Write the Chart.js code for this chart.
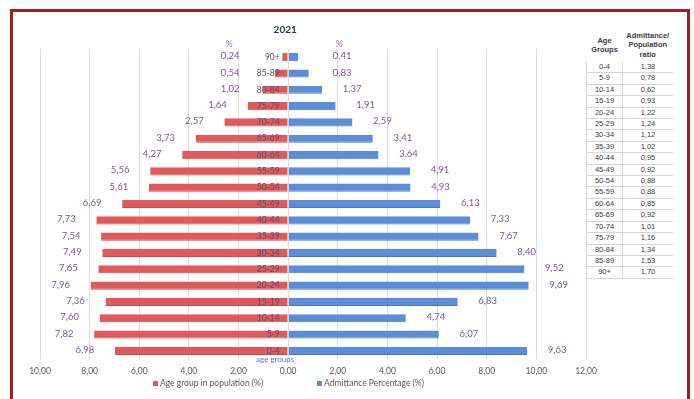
<!DOCTYPE html>
<html>
<head>
<meta charset="utf-8">
<title>2021 age pyramid</title>
<script src="https://cdn.jsdelivr.net/npm/chart.js@4.4.1/dist/chart.umd.min.js"></script>
<style>
  html, body { margin: 0; padding: 0; background: #fff; }
  #wrap { position: relative; width: 694px; height: 399px; overflow: hidden; background: #fff; }
  #chart { position: absolute; left: 0; top: 0; }
  #frame { position: absolute; left: 10px; top: 9px; width: 674px; height: 420px;
           border: 3px solid #a11d21; pointer-events: none; }
  #ratio { position: absolute; left: 586px; top: 28px; border-collapse: collapse; background: #fff;
           font-family: "Liberation Sans", Arial, sans-serif; font-size: 7.5px; color: #3c3c3c; }
  #ratio th { font-weight: bold; line-height: 9.5px; padding: 0; vertical-align: middle; height: 34px; }
  #ratio td { padding: 0; height: 10.4px; line-height: 10.4px; text-align: center;
              border-bottom: 1px solid #d6d6d6; }
  #ratio td.g { width: 35px; border-left: 1px solid #d6d6d6; border-right: 1px solid #d6d6d6; }
  #ratio td.r { width: 50px; }
  #ratio th.g { width: 35px; }
  #ratio th.r { width: 50px; }
</style>
</head>
<body>
<div id="wrap">
  <canvas id="chart" width="694" height="399"></canvas>
  <table id="ratio"><thead></thead><tbody></tbody></table>
  <div id="frame"></div>
</div>
<script>
// Age groups, youngest first
const ageGroups = ['0-4','5-9','10-14','15-19','20-24','25-29','30-34','35-39','40-44','45-49',
                   '50-54','55-59','60-64','65-69','70-74','75-79','80-84','85-89','90+'];
// Share of each age group in the population (%)
const populationPct = [6.98, 7.82, 7.60, 7.36, 7.96, 7.65, 7.49, 7.54, 7.73, 6.69,
                       5.61, 5.56, 4.27, 3.73, 2.57, 1.64, 1.02, 0.54, 0.24];
// Share of each age group among admissions (%)
const admittancePct = [9.63, 6.07, 4.74, 6.83, 9.69, 9.52, 8.40, 7.67, 7.33, 6.13,
                       4.93, 4.91, 3.64, 3.41, 2.59, 1.91, 1.37, 0.83, 0.41];
// Admittance / population ratio per age group
const ratioValues = ['1,38','0,78','0,62','0,93','1,22','1,24','1,12','1,02','0,95','0,92',
                     '0,88','0,88','0,85','0,92','1,01','1,16','1,34','1,53','1,70'];
const xTicks = { min: -10, max: 12, step: 2 };

const fmt = v => Math.abs(v).toFixed(2).replace('.', ',');

// Ratio table
(function buildTable() {
  const thead = document.querySelector('#ratio thead');
  thead.innerHTML = '<tr><th class="g">Age<br>Groups</th><th class="r">Admittance/<br>Population<br>ratio</th></tr>';
  const tbody = document.querySelector('#ratio tbody');
  ageGroups.forEach((g, i) => {
    const tr = document.createElement('tr');
    tr.innerHTML = '<td class="g">' + g + '</td><td class="r">' + ratioValues[i] + '</td>';
    tbody.appendChild(tr);
  });
})();

// top row = oldest group
const rows = ageGroups.slice().reverse();
const popRows = populationPct.slice().reverse();
const admRows = admittancePct.slice().reverse();

const FONT = 'Lato, "Open Sans", sans-serif';

const annotations = {
  id: 'annotations',
  afterDatasetsDraw(chart) {
    const ctx = chart.ctx;
    const x = chart.scales.x;
    const zero = x.getPixelForValue(0);
    ctx.save();
    ctx.font = '9.5px ' + FONT;
    ctx.fillStyle = '#7a5890';
    ctx.textAlign = 'center';
    ctx.textBaseline = 'middle';
    chart.getDatasetMeta(0).data.forEach((bar, i) => {
      const lx = Math.min(bar.x - 30, zero - 58);
      ctx.fillText(fmt(popRows[i]), lx, bar.y - 1);
    });
    chart.getDatasetMeta(1).data.forEach((bar, i) => {
      const lx = Math.max(bar.x + 30, zero + 54);
      ctx.fillText(fmt(admRows[i]), lx, bar.y - 1);
    });
    // percent markers above the label columns
    ctx.fillStyle = '#a77ac0';
    ctx.font = '9px ' + FONT;
    ctx.fillText('%', zero - 59, 44);
    ctx.fillText('%', zero + 51, 44);
    // title
    ctx.fillStyle = '#243a55';
    ctx.font = 'bold 10px ' + FONT;
    ctx.fillText('2021', zero - 3, 30);
    // category axis caption
    ctx.fillStyle = '#5a78cc';
    ctx.font = '8px ' + FONT;
    ctx.fillText('age groups', zero - 13, 359);
    // legend
    const items = [
      { text: 'Age group in population (%)', color: '#e05a5c', x: 153 },
      { text: 'Admittance Percentage (%)', color: '#5b8dd8', x: 317 }
    ];
    ctx.textAlign = 'left';
    ctx.font = '8.5px ' + FONT;
    items.forEach(it => {
      ctx.fillStyle = it.color;
      ctx.fillRect(it.x, 381, 5, 5);
      ctx.fillStyle = '#595959';
      ctx.fillText(it.text, it.x + 7, 383.5);
    });
    ctx.restore();
  }
};

new Chart(document.getElementById('chart'), {
  type: 'bar',
  data: {
    labels: rows,
    datasets: [
      {
        label: 'Age group in population (%)',
        data: popRows.map(v => -v),
        backgroundColor: '#e05a5c',
        borderColor: '#c94a4c',
        borderWidth: { top: 0, bottom: 1, left: 0, right: 0 },
        borderSkipped: false,
        barPercentage: 0.5,
        categoryPercentage: 1
      },
      {
        label: 'Admittance Percentage (%)',
        data: admRows,
        backgroundColor: '#5b8dd8',
        borderColor: '#4a78c0',
        borderWidth: { top: 0, bottom: 1, left: 0, right: 0 },
        borderSkipped: false,
        barPercentage: 0.5,
        categoryPercentage: 1
      }
    ]
  },
  options: {
    indexAxis: 'y',
    responsive: false,
    animation: false,
    devicePixelRatio: 1,
    layout: { padding: { left: 40, right: 108, top: 49, bottom: 20 } },
    plugins: { legend: { display: false }, title: { display: false }, tooltip: { enabled: false } },
    scales: {
      x: {
        stacked: true,
        min: xTicks.min,
        max: xTicks.max,
        afterFit: s => { s.height = 20; },
        grid: { color: '#dcdcdc', lineWidth: 1, drawTicks: false },
        border: { display: false },
        ticks: {
          stepSize: xTicks.step,
          padding: 7,
          color: '#595959',
          font: { family: FONT, size: 8.5 },
          callback: v => fmt(v)
        }
      },
      y: {
        stacked: true,
        position: { x: 0 },
        grid: { display: false, drawTicks: false },
        border: { display: false },
        ticks: {
          z: 1,
          color: '#5e4a6c',
          font: { family: FONT, size: 8.5 },
          // keep the group names clear of the zero line
          callback: (v, i) => rows[i] + '\u2002\u2002'
        }
      }
    }
  },
  plugins: [annotations]
});
</script>
</body>
</html>
